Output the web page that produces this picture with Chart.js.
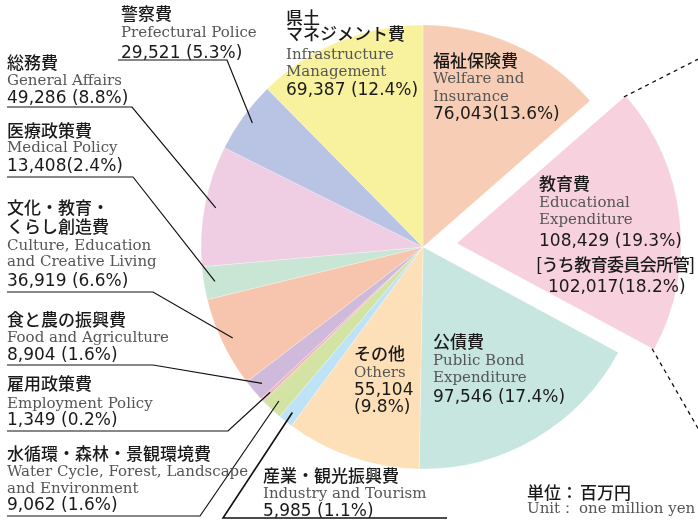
<!DOCTYPE html>
<html lang="ja">
<head>
<meta charset="utf-8">
<script src="https://cdn.jsdelivr.net/npm/chart.js@4.4.1/dist/chart.umd.min.js"></script>
<style>
html, body { margin: 0; padding: 0; background: #fff; }
#wrap { position: relative; width: 698px; height: 521px; overflow: hidden; }
#wrap canvas { position: absolute; left: 0; top: 0; }
.t { position: absolute; white-space: nowrap; height: 20px; line-height: 20px; }
.jp { font-family: "Noto Sans CJK JP", sans-serif; font-size: 17px; font-weight: 500; color: #1a1a1a; }
.en { font-family: "DejaVu Serif", serif; font-size: 15px; color: #555; }
.num { font-family: "DejaVu Sans", sans-serif; font-size: 17px; color: #1a1a1a; }
.narrow { letter-spacing: -0.6px; }
</style>
</head>
<body>
<div id="wrap"><canvas id="pieChart" width="698" height="521"></canvas></div>
<script>
// 歳出の内訳（単位：百万円）
var categories = ['福祉保険費', '教育費', '公債費', 'その他', '産業・観光振興費', '水循環・森林・景観環境費',
    '雇用政策費', '食と農の振興費', '文化・教育・\nくらし創造費', '医療政策費', '総務費', '警察費', '県土\nマネジメント費'];
var englishNames = ['Welfare and\nInsurance', 'Educational\nExpenditure', 'Public Bond\nExpenditure', 'Others',
    'Industry and Tourism', 'Water Cycle, Forest, Landscape\nand Environment', 'Employment Policy',
    'Food and Agriculture', 'Culture, Education\nand Creative Living', 'Medical Policy', 'General Affairs',
    'Prefectural Police', 'Infrastructure\nManagement'];
var amounts = [76043, 108429, 97546, 55104, 5985, 9062, 1349, 8904, 36919, 13408, 49286, 29521, 69387];
var percents = [13.6, 19.3, 17.4, 9.8, 1.1, 1.6, 0.2, 1.6, 6.6, 2.4, 8.8, 5.3, 12.4];

// 教育費のうち教育委員会所管
var subName = '[うち教育委員会所管]';
var subAmount = 102017;
var subPercent = 18.2;

var unitJp = ['単位：', '百万円'];
var unitEn = ['Unit：', 'one million yen'];

var sliceColors = ['#F8CDB6', '#F7D1DD', '#C6E6DF', '#FDE0B8', '#BFE3F6', '#D2E3A3', '#F3B6C0',
    '#CFBADB', '#F7C5AD', '#C8E6D3', '#EFCDE3', '#B9C4E4', '#F8F19E'];
var sliceOffsets = [0, 136, 0, 0, 0, 0, 0, 0, 0, 0, 0, 0, 0];

// ラベル配置（x: 左端, y: 各行の中心）
var labelLayout = [
    { i: 0, x: 433, y: [60, 78, 96, 113], tight: true },
    { i: 1, x: 539, y: [183, 202, 219, 240] },
    { i: 2, x: 433, y: [341, 360, 377, 396] },
    { i: 3, x: 354, y: [353, 372, 389, 406], split: true },
    { i: 4, x: 263, y: [475, 493, 510] },
    { i: 5, x: 7, y: [453, 471, 488, 504] },
    { i: 6, x: 7, y: [383, 403, 419] },
    { i: 7, x: 7, y: [319, 337, 354] },
    { i: 8, x: 7, y: [207, 226, 245, 261, 280] },
    { i: 9, x: 7, y: [130, 147, 165], tight: true },
    { i: 10, x: 7, y: [62, 80, 97] },
    { i: 11, x: 121, y: [13, 32, 52] },
    { i: 12, x: 286, y: [17, 33, 54, 71, 89] }
];

// 引き出し線（下線 x1→x2, y）
var leaders = [
    { i: 11, x1: 118, x2: 227, y: 60 },
    { i: 10, x1: 7, x2: 132, y: 107 },
    { i: 9, x1: 7, x2: 133, y: 177 },
    { i: 8, x1: 7, x2: 153, y: 292 },
    { i: 7, x1: 7, x2: 153, y: 365 },
    { i: 6, x1: 7, x2: 228, y: 431 },
    { i: 5, x1: 7, x2: 200, y: 516 },
    { i: 4, x1: 223, x2: 447, y: 518, fromLeft: true }
];

function fmt(n) {
    return n.toLocaleString('en-US');
}

var wrap = document.getElementById('wrap');
function addText(cls, text, x, y) {
    var d = document.createElement('div');
    d.className = 't ' + cls;
    d.textContent = text;
    d.style.left = x + 'px';
    d.style.top = (y - 10) + 'px';
    wrap.appendChild(d);
}

labelLayout.forEach(function (l) {
    var lines = [];
    categories[l.i].split('\n').forEach(function (s) { lines.push(['jp', s]); });
    englishNames[l.i].split('\n').forEach(function (s) { lines.push(['en', s]); });
    var pct = '(' + percents[l.i].toFixed(1) + '%)';
    if (l.split) {
        lines.push(['num', fmt(amounts[l.i])]);
        lines.push(['num', pct]);
    } else {
        lines.push(['num', fmt(amounts[l.i]) + (l.tight ? '' : ' ') + pct]);
    }
    lines.forEach(function (ln, k) { addText(ln[0], ln[1], l.x, l.y[k]); });
});
addText('jp narrow', subName, 536, 264);
addText('num', fmt(subAmount) + '(' + subPercent.toFixed(1) + '%)', 548, 286);
addText('jp', unitJp[0], 527, 492);
addText('jp', unitJp[1], 580, 492);
addText('en', unitEn[0], 527, 508);
addText('en', unitEn[1], 579, 508);

var leaderPlugin = {
    id: 'leaders',
    afterDatasetsDraw: function (chart) {
        var ctx = chart.ctx;
        var arcs = chart.getDatasetMeta(0).data;
        ctx.save();
        ctx.strokeStyle = '#111';
        leaders.forEach(function (l) {
            var p = arcs[l.i].getProps(['x', 'y', 'startAngle', 'endAngle', 'outerRadius']);
            var a = (p.startAngle + p.endAngle) / 2;
            var r = p.outerRadius * 0.95;
            var tx = p.x + Math.cos(a) * r;
            var ty = p.y + Math.sin(a) * r;
            ctx.lineWidth = l.fromLeft ? 1.6 : 1.2;
            ctx.beginPath();
            if (l.fromLeft) {
                ctx.moveTo(l.x2, l.y); ctx.lineTo(l.x1, l.y);
            } else {
                ctx.moveTo(l.x1, l.y); ctx.lineTo(l.x2, l.y);
            }
            ctx.lineTo(tx, ty);
            ctx.stroke();
        });

        // 教育費の内訳を示す破線
        var e = arcs[1];
        var q = e.getProps(['x', 'y', 'startAngle', 'endAngle', 'outerRadius']);
        var shift = e.options.offset / 4;
        var mid = (q.startAngle + q.endAngle) / 2;
        var cx = q.x + Math.cos(mid) * shift;
        var cy = q.y + Math.sin(mid) * shift;
        ctx.setLineDash([4, 4]);
        ctx.lineWidth = 1.3;
        [[q.startAngle, -27], [q.endAngle, 60]].forEach(function (d) {
            var sx = cx + Math.cos(d[0]) * q.outerRadius;
            var sy = cy + Math.sin(d[0]) * q.outerRadius;
            var ang = d[1] * Math.PI / 180;
            ctx.beginPath();
            ctx.moveTo(sx, sy);
            ctx.lineTo(sx + Math.cos(ang) * 200, sy + Math.sin(ang) * 200);
            ctx.stroke();
        });
        ctx.restore();
    }
};

var ctx = document.getElementById('pieChart').getContext('2d');
var pieChart = new Chart(ctx, {
    type: 'pie',
    data: {
        labels: categories,
        datasets: [{
            data: amounts,
            backgroundColor: sliceColors,
            borderColor: 'rgba(255, 255, 255, 0.5)',
            borderWidth: 0.5,
            offset: sliceOffsets
        }]
    },
    options: {
        responsive: false,
        animation: false,
        devicePixelRatio: 1,
        radius: 222,
        layout: { padding: { left: 148, right: 0, top: 0, bottom: 27 } },
        plugins: {
            legend: { display: false },
            tooltip: { enabled: false }
        }
    },
    plugins: [leaderPlugin]
});
</script>
</body>
</html>
